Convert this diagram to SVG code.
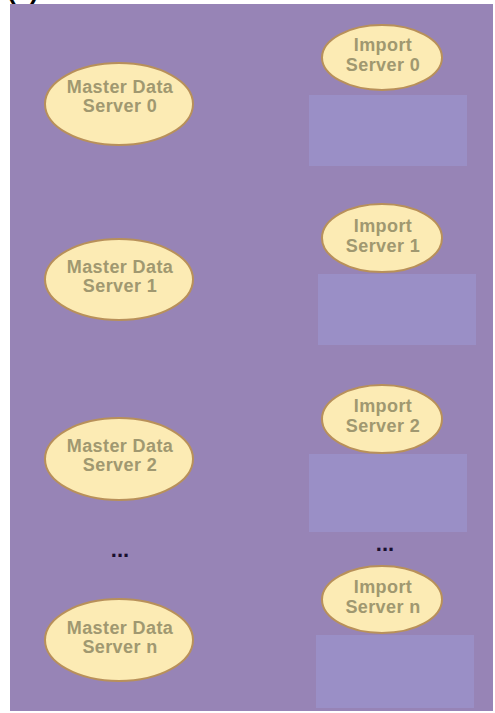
<svg xmlns="http://www.w3.org/2000/svg" width="495" height="713" viewBox="0 0 495 713">
  <style>
    .bg { fill: #9784b6; }
    .box { fill: #9a8fc6; }
    .ell { fill: #fcebb4; stroke: #b8905a; stroke-width: 2; }
    .lbl { font-family: "Liberation Sans", Arial, sans-serif; font-weight: bold; font-size: 18px; letter-spacing: 0.4px; fill: #a09870; text-anchor: middle; }
    .dots { font-family: "Liberation Sans", Arial, sans-serif; font-weight: bold; font-size: 22px; fill: #1a1030; text-anchor: middle; }
    .cap { font-family: "Liberation Sans", Arial, sans-serif; font-weight: bold; font-size: 26px; fill: #000000; }
  </style>
  <rect width="495" height="713" fill="#ffffff"/>
  <text class="cap" x="7" y="-1">(c)</text>
  <rect class="bg" x="10" y="4" width="483" height="707"/>

  <g id="connectors"></g>

  <g id="mds0">
    <ellipse class="ell" cx="119" cy="104" rx="74" ry="41"/>
    <text class="lbl" x="120" y="93">Master Data</text>
    <text class="lbl" x="120" y="112">Server 0</text>
  </g>
  <g id="mds1">
    <ellipse class="ell" cx="119" cy="279.5" rx="74" ry="40.5"/>
    <text class="lbl" x="120" y="273">Master Data</text>
    <text class="lbl" x="120" y="292">Server 1</text>
  </g>
  <g id="mds2">
    <ellipse class="ell" cx="119" cy="459" rx="74" ry="41"/>
    <text class="lbl" x="120" y="452">Master Data</text>
    <text class="lbl" x="120" y="471">Server 2</text>
  </g>
  <g id="mdsn">
    <ellipse class="ell" cx="119" cy="640" rx="74" ry="41"/>
    <text class="lbl" x="120" y="634">Master Data</text>
    <text class="lbl" x="120" y="653">Server n</text>
  </g>

  <g id="is0">
    <ellipse class="ell" cx="382" cy="57.5" rx="60" ry="32.5"/>
    <text class="lbl" x="383" y="51">Import</text>
    <text class="lbl" x="383" y="71">Server 0</text>
    <rect class="box" x="309" y="95" width="158" height="71"/>
  </g>
  <g id="is1">
    <ellipse class="ell" cx="382" cy="238" rx="60" ry="34"/>
    <text class="lbl" x="383" y="232">Import</text>
    <text class="lbl" x="383" y="252">Server 1</text>
    <rect class="box" x="318" y="274" width="158" height="71"/>
  </g>
  <g id="is2">
    <ellipse class="ell" cx="382" cy="419" rx="60" ry="34"/>
    <text class="lbl" x="383" y="412">Import</text>
    <text class="lbl" x="383" y="432">Server 2</text>
    <rect class="box" x="309" y="454" width="158" height="78"/>
  </g>
  <g id="isn">
    <ellipse class="ell" cx="382" cy="599.5" rx="60" ry="33.5"/>
    <text class="lbl" x="383" y="593">Import</text>
    <text class="lbl" x="383" y="613">Server n</text>
    <rect class="box" x="316" y="635" width="158" height="73"/>
  </g>

  <g id="dots-left"><text class="dots" x="120" y="557">...</text></g>
  <g id="dots-right"><text class="dots" x="385" y="551">...</text></g>
</svg>
